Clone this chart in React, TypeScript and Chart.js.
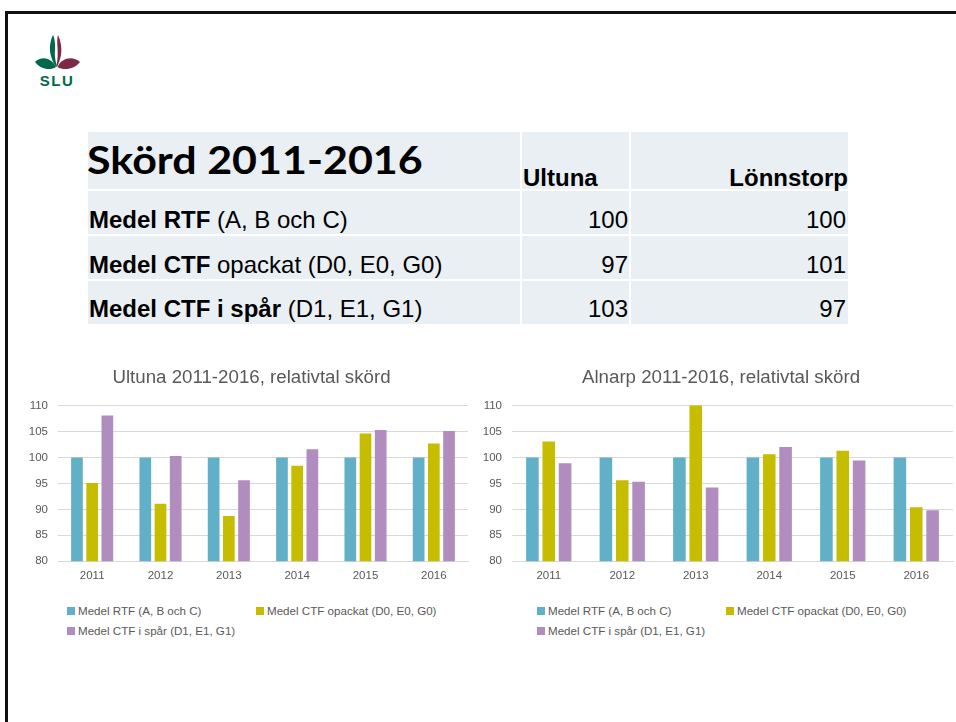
import React, { useEffect, useRef } from "react";
import { Chart, registerables } from "chart.js";

Chart.register(...registerables);

// ---------- data ----------
const years = ["2011", "2012", "2013", "2014", "2015", "2016"];
const seriesLabels = [
  "Medel RTF (A, B och C)",
  "Medel CTF opackat (D0, E0, G0)",
  "Medel CTF i spår (D1, E1, G1)",
];
const seriesColors = ["#62b0c7", "#c6bd00", "#b18cbf"];

const ultunaRTF = [100, 100, 100, 100, 100, 100];
const ultunaOpackat = [95.1, 91.1, 88.7, 98.4, 104.6, 102.7];
const ultunaSpar = [108.1, 100.3, 95.6, 101.6, 105.3, 105.1];

const alnarpRTF = [100, 100, 100, 100, 100, 100];
const alnarpOpackat = [103.1, 95.6, 110.3, 100.6, 101.3, 90.4];
const alnarpSpar = [98.9, 95.3, 94.2, 102.0, 99.4, 89.8];

const yMin = 80;
const yMax = 110;
const yStep = 5;

const tableTitle = "Skörd 2011-2016";
const tableHeaders = ["Ultuna", "Lönnstorp"];
const tableRowBold = ["Medel RTF", "Medel CTF", "Medel CTF i spår"];
const tableRowRest = [" (A, B och C)", " opackat (D0, E0, G0)", " (D1, E1, G1)"];
const tableUltuna = [100, 97, 103];
const tableLonnstorp = [100, 101, 97];

const chartTitles = ["Ultuna 2011-2016, relativtal skörd", "Alnarp 2011-2016, relativtal skörd"];

// ---------- styling ----------
const SANS = "'Liberation Sans', Arial, Helvetica, sans-serif";
const GRAY = "#595959";

type BarChartProps = {
  title: string;
  titleX: number;
  series: number[][];
  left: number;
  top: number;
  width: number;
  height: number;
  padRight: number;
};

function BarChart({ title, titleX, series, left, top, width, height, padRight }: BarChartProps) {
  const ref = useRef<HTMLCanvasElement>(null);
  useEffect(() => {
    const titlePlugin = {
      id: "offsetTitle",
      afterDraw(chart: any) {
        const ctx = chart.ctx as CanvasRenderingContext2D;
        ctx.save();
        ctx.font = `18.7px ${SANS}`;
        ctx.fillStyle = GRAY;
        ctx.textAlign = "center";
        ctx.textBaseline = "middle";
        ctx.fillText(title, titleX, 16);
        ctx.restore();
      },
    };
    const chart = new Chart(ref.current as HTMLCanvasElement, {
      type: "bar",
      data: {
        labels: years,
        datasets: series.map((d, i) => ({
          label: seriesLabels[i],
          data: d,
          backgroundColor: seriesColors[i],
          borderWidth: 0,
          categoryPercentage: 0.667,
          barPercentage: 0.77,
        })),
      },
      options: {
        responsive: false,
        maintainAspectRatio: false,
        animation: false,
        layout: { padding: { left: 0, right: padRight, top: 43.6, bottom: 0 } },
        plugins: {
          legend: { display: false },
          tooltip: { enabled: false },
          title: { display: false },
        },
        scales: {
          x: {
            grid: { display: false, drawTicks: false },
            border: { display: true, color: "#d9d9d9", width: 1 },
            ticks: { color: GRAY, font: { family: SANS, size: 11.5 }, padding: 8 },
          },
          y: {
            min: yMin,
            max: yMax,
            afterFit: (s: any) => {
              s.width = 40;
            },
            grid: { color: "#d9d9d9", drawTicks: false, lineWidth: 1 },
            border: { display: false },
            ticks: { stepSize: yStep, color: GRAY, font: { family: SANS, size: 11.5 }, padding: 10 },
          },
        },
      },
      plugins: [titlePlugin],
    });
    return () => chart.destroy();
  }, []);
  return (
    <canvas
      ref={ref}
      width={width}
      height={height}
      aria-label={title}
      style={{ position: "absolute", left, top, width, height }}
    />
  );
}

function Legend({ left, top }: { left: number; top: number }) {
  return (
    <>
      {seriesLabels.map((lab, i) => {
        const col = i % 2;
        const row = Math.floor(i / 2);
        return (
          <div
            key={lab}
            style={{
              position: "absolute",
              left: left + col * 189,
              top: top + row * 20.5 - 7,
              height: 14,
              display: "flex",
              alignItems: "center",
              whiteSpace: "nowrap",
              fontFamily: SANS,
              fontSize: 11.6,
              color: GRAY,
              lineHeight: "14px",
            }}
          >
            <span style={{ display: "inline-block", width: 8, height: 8, background: seriesColors[i], marginRight: 3 }} />
            <span>{lab}</span>
          </div>
        );
      })}
    </>
  );
}

function Txt({
  x,
  baseline,
  size,
  family,
  align = "left",
  children,
  ascentRatio = 0.8465,
  extra,
}: {
  x: number;
  baseline: number;
  size: number;
  family: string;
  align?: "left" | "right";
  children: React.ReactNode;
  ascentRatio?: number;
  extra?: React.CSSProperties;
}) {
  const top = baseline - ascentRatio * size;
  const style: React.CSSProperties = {
    position: "absolute",
    top,
    fontFamily: family,
    fontSize: size,
    lineHeight: 1,
    whiteSpace: "nowrap",
    color: "#000",
    ...(extra || {}),
  };
  if (align === "left") style.left = x;
  else style.right = 956 - x;
  return <div style={style}>{children}</div>;
}

function Logo() {
  return (
    <svg
      width={100}
      height={100}
      viewBox="0 0 100 100"
      style={{ position: "absolute", left: 0, top: 0 }}
    >
      <path
        d="M53,35 C50,41 49,49 51,56 C52,60 54,64 56,67 L57,66 C55,61 54.5,55 55,48 C55.3,43 54.5,38 53,35 Z"
        fill="#00694b"
      />
      <path
        d="M58,35 C61,41 62,49 61,55 C60,60 58.5,64 57,67 L56.5,66 C57.5,61 58,55 57.5,48 C57.2,43 57,38 58,35 Z"
        fill="#7a2a42"
      />
      <path d="M56,67 C51,57 41,56 35,62 C40,69 50,71 56,67 Z" fill="#00694b" />
      <path d="M57.5,67 C62,57 73,56 80,62 C75,69 64,71 57.5,67 Z" fill="#7a2a42" />
      <text
        x={57}
        y={86}
        textAnchor="middle"
        fontFamily="'Liberation Sans', Arial, sans-serif"
        fontWeight="bold"
        fontSize={15}
        fill="#00694b"
        letterSpacing={1.5}
      >
        SLU
      </text>
    </svg>
  );
}

export default function App() {
  const tableBg = "#e9eff3";
  const cols = [
    [88, 432],
    [522, 107],
    [631, 217],
  ];
  const rows = [
    [132, 57],
    [191, 43],
    [236, 43],
    [281, 43],
  ];
  const rowBaselines = [228, 273, 317.5];
  return (
    <div
      style={{
        position: "absolute",
        left: 0,
        top: 0,
        width: 956,
        height: 722,
        overflow: "hidden",
        background: "#fff",
      }}
    >
      {/* slide border */}
      <div
        style={{
          position: "absolute",
          left: 5,
          top: 11,
          width: 1200,
          height: 1200,
          borderLeft: "3px solid #111",
          borderTop: "3px solid #111",
        }}
      />
      <Logo />

      {/* table background cells */}
      {rows.map(([ry, rh], ri) =>
        cols.map(([cx, cw], ci) => (
          <div
            key={`${ri}-${ci}`}
            style={{ position: "absolute", left: cx, top: ry, width: cw, height: rh, background: tableBg }}
          />
        ))
      )}
      <Txt
        x={87}
        baseline={174}
        size={43}
        family="Lato, 'Open Sans', sans-serif"
        ascentRatio={0.887}
        extra={{ transform: "scaleY(0.9)", transformOrigin: `0px ${0.887 * 43}px` }}
      >
        <span style={{ fontWeight: 700 }}>{tableTitle}</span>
      </Txt>
      <Txt x={523} baseline={186} size={24} family={SANS}>
        <b>{tableHeaders[0]}</b>
      </Txt>
      <Txt x={848} baseline={186} size={24} family={SANS} align="right">
        <b>{tableHeaders[1]}</b>
      </Txt>
      {tableRowBold.map((b, i) => (
        <React.Fragment key={b}>
          <Txt x={89} baseline={rowBaselines[i]} size={24} family={SANS}>
            <b>{b}</b>
            {tableRowRest[i]}
          </Txt>
          <Txt x={628} baseline={rowBaselines[i]} size={24} family={SANS} align="right">
            {tableUltuna[i]}
          </Txt>
          <Txt x={846} baseline={rowBaselines[i]} size={24} family={SANS} align="right">
            {tableLonnstorp[i]}
          </Txt>
        </React.Fragment>
      ))}

      <BarChart
        title={chartTitles[0]}
        titleX={233.5}
        series={[ultunaRTF, ultunaOpackat, ultunaSpar]}
        left={18}
        top={362}
        width={458}
        height={229}
        padRight={8}
      />
      <BarChart
        title={chartTitles[1]}
        titleX={249}
        series={[alnarpRTF, alnarpOpackat, alnarpSpar]}
        left={472}
        top={362}
        width={484}
        height={229}
        padRight={3}
      />
      <Legend left={67} top={610.5} />
      <Legend left={537} top={610.5} />
    </div>
  );
}
